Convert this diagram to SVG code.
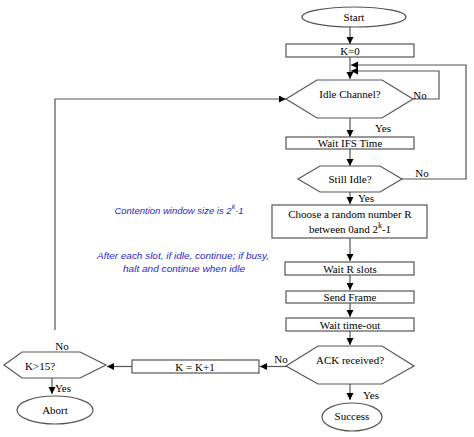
<svg xmlns="http://www.w3.org/2000/svg" width="474" height="437" viewBox="0 0 474 437">
<defs>
<marker id="ah" markerUnits="userSpaceOnUse" markerWidth="8" markerHeight="8" refX="7" refY="3.5" orient="auto">
<path d="M0,0 L7,3.5 L0,7 z" fill="#000"/>
</marker>
<style>
.n{fill:#fff;stroke:#555;stroke-width:1.2}
.t{font-family:"Liberation Serif","Times New Roman",serif;font-size:11px;fill:#000;text-anchor:middle;dominant-baseline:central}
.c{fill:none;stroke:#555;stroke-width:1.2}
.a{marker-end:url(#ah)}
.b{font-family:"Liberation Sans",Arial,sans-serif;font-style:italic;font-size:9.5px;fill:#2a2acc;text-anchor:middle;dominant-baseline:central}
</style>
</defs>
<rect width="474" height="437" fill="#fff"/>
<g id="connectors">
<path class="c a" d="M350,27 V44"/>
<path class="c a" d="M350,57 V79"/>
<path class="c a" d="M413,99 H439 V71 H351"/>
<path class="c a" d="M402,179 H466 V65 H351"/>
<path class="c a" d="M350,118 V137"/>
<path class="c a" d="M350,149 V166"/>
<path class="c a" d="M350,192 V204"/>
<path class="c a" d="M350,238 V261"/>
<path class="c a" d="M350,275 V290"/>
<path class="c a" d="M350,303 V317"/>
<path class="c a" d="M350,331 V345"/>
<path class="c a" d="M350,384 V400"/>
<path class="c a" d="M286,366.5 H260"/>
<path class="c a" d="M132,366.5 H107"/>
<path class="c a" d="M52,378 V394"/>
<path class="c a" d="M55,330 V99 H286"/>
</g>
<g id="start"><ellipse class="n" cx="354" cy="17" rx="52" ry="10"/><text class="t" x="354" y="17">Start</text></g>
<g id="k0"><rect class="n" x="286" y="44" width="128" height="13"/><text class="t" x="350" y="50.5">K=0</text></g>
<g id="idle"><polygon class="n" points="286,99 317,80 382,80 413,99 382,118 317,118"/><text class="t" x="350" y="94">Idle Channel?</text></g>
<g id="waitifs"><rect class="n" x="286" y="137" width="128" height="12"/><text class="t" x="350" y="143">Wait IFS Time</text></g>
<g id="stillidle"><polygon class="n" points="298,179 320,166 380,166 402,179 380,192 320,192"/><text class="t" x="350" y="179">Still Idle?</text></g>
<g id="choose"><rect class="n" x="272" y="205" width="155" height="33"/><text class="t" x="350" y="214">Choose a random number R</text><text class="t" x="350" y="229">between 0and 2<tspan dy="-4" font-size="8">k</tspan><tspan dy="4">-1</tspan></text></g>
<g id="waitr"><rect class="n" x="285" y="262" width="129" height="13"/><text class="t" x="350" y="268.5">Wait R slots</text></g>
<g id="send"><rect class="n" x="286" y="291" width="128" height="12"/><text class="t" x="350" y="297">Send Frame</text></g>
<g id="timeout"><rect class="n" x="286" y="318" width="128" height="13"/><text class="t" x="350" y="324.5">Wait time-out</text></g>
<g id="ack"><polygon class="n" points="286,366 318,346 382,346 414,366 382,384 318,384"/><text class="t" x="350" y="360">ACK received?</text></g>
<g id="success"><ellipse class="n" cx="352" cy="417" rx="30" ry="14"/><text class="t" x="352" y="416">Success</text></g>
<g id="kinc"><rect class="n" x="132" y="360" width="127" height="13"/><text class="t" x="195" y="366.5">K = K+1</text></g>
<g id="k15"><polygon class="n" points="4,365 22,352 80,352 106,365 80,378 22,378"/><text class="t" x="40" y="366">K&gt;15?</text></g>
<g id="abort"><ellipse class="n" cx="55" cy="410" rx="38" ry="14"/><text class="t" x="55" y="410">Abort</text></g>
<g id="labels">
<text class="t" x="420" y="95">No</text>
<text class="t" x="422" y="173">No</text>
<text class="t" x="281" y="359">No</text>
<text class="t" x="62" y="346">No</text>
<text class="t" x="383" y="128">Yes</text>
<text class="t" x="366" y="198">Yes</text>
<text class="t" x="371" y="395">Yes</text>
<text class="t" x="63" y="388">Yes</text>
<text class="b" x="179" y="210">Contention window size is 2<tspan dy="-4" font-size="7">k</tspan><tspan dy="4">-1</tspan></text>
<text class="b" x="183" y="255" textLength="172" lengthAdjust="spacingAndGlyphs">After each slot, if idle, continue; if busy,</text>
<text class="b" x="184" y="268" textLength="122" lengthAdjust="spacingAndGlyphs">halt and continue when idle</text>
</g>
</svg>
